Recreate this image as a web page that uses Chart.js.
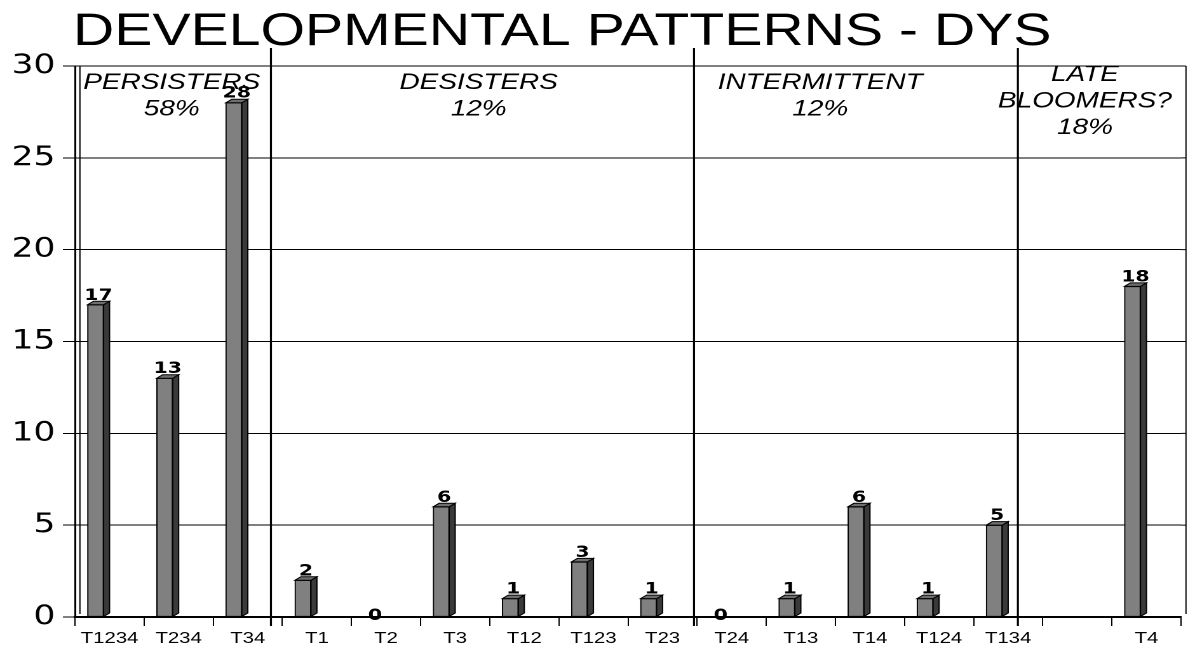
<!DOCTYPE html>
<html>
<head>
<meta charset="utf-8">
<title>Developmental patterns - DYS</title>
<script src="https://cdn.jsdelivr.net/npm/chart.js@4.4.1/dist/chart.umd.min.js"></script>
<style>
  html, body { margin: 0; padding: 0; background: #fff; overflow: hidden; }
  /* the chart is laid out narrow and widened horizontally, giving the wide lettering */
  #wrap { position: absolute; left: 0; top: 0; width: 935px; height: 646px;
          transform: scaleX(1.27059); transform-origin: 0 0; }
</style>
</head>
<body>
<div id="wrap"><canvas id="chart"></canvas></div>
<script>
// ---- data ----
const categories = ['T1234', 'T234', 'T34', 'T1', 'T2', 'T3', 'T12', 'T123', 'T23',
                    'T24', 'T13', 'T14', 'T124', 'T134', '', 'T4'];
const counts = [17, 13, 28, 2, 0, 6, 1, 3, 1, 0, 1, 6, 1, 5, null, 18];
const yTicks = [0, 5, 10, 15, 20, 25, 30];
const chartTitle = 'DEVELOPMENTAL PATTERNS - DYS';
const groupNames = [['PERSISTERS'], ['DESISTERS'], ['INTERMITTENT'], ['LATE', 'BLOOMERS?']];
const groupShares = ['58%', '12%', '12%', '18%'];

// ---- placement of the group captions and separators, in category units ----
const groupCenters = [0.9, 5.34, 10.28, 14.11];
const dividerAt = [2.335, 8.455, 13.14];

const DEPTH_X = 4.7, DEPTH_Y = 3.5, BAR_SHIFT = -11;
const SANS = '"Liberation Sans", Arial, sans-serif';

function xAt(chart, u) {
  const xs = chart.scales.x;
  const p0 = xs.getPixelForValue(0), p1 = xs.getPixelForValue(1);
  return p0 + u * (p1 - p0);
}

// bars drawn as blocks with a darker side and a top face
const depthPlugin = {
  id: 'depth',
  beforeDatasetsDraw(chart) {
    chart.ctx.save();
    chart.ctx.translate(BAR_SHIFT, 0);
  },
  afterDatasetsDraw(chart) {
    const ctx = chart.ctx;
    const meta = chart.getDatasetMeta(0);
    meta.data.forEach((bar, i) => {
      const v = counts[i];
      if (v === null || v === undefined) return;
      const { x, y, base, width } = bar.getProps(['x', 'y', 'base', 'width'], true);
      const l = x - width / 2, r = x + width / 2;
      ctx.lineWidth = 1;
      ctx.strokeStyle = '#000';
      if (v > 0) {
        ctx.beginPath();
        ctx.moveTo(r, y);
        ctx.lineTo(r + DEPTH_X, y - DEPTH_Y);
        ctx.lineTo(r + DEPTH_X, base - DEPTH_Y);
        ctx.lineTo(r, base);
        ctx.closePath();
        ctx.fillStyle = '#3a3a3a';
        ctx.fill();
        ctx.stroke();
        ctx.beginPath();
        ctx.moveTo(l, y);
        ctx.lineTo(l + DEPTH_X, y - DEPTH_Y);
        ctx.lineTo(r + DEPTH_X, y - DEPTH_Y);
        ctx.lineTo(r, y);
        ctx.closePath();
        ctx.fillStyle = '#6e6e6e';
        ctx.fill();
        ctx.stroke();
      }
      ctx.font = 'bold 16px "DejaVu Sans", sans-serif';
      ctx.textAlign = 'center';
      ctx.fillStyle = '#000';
      if (v > 0) {
        ctx.textBaseline = 'alphabetic';
        ctx.fillText(String(v), x + DEPTH_X / 2, y - DEPTH_Y - 1.5);
      } else {
        ctx.textBaseline = 'middle';
        ctx.fillText(String(v), x + DEPTH_X / 2, base - 1);
      }
    });
    ctx.restore();
  }
};

// back wall edges, group separators, captions and title
const framePlugin = {
  id: 'frame',
  afterDraw(chart) {
    const ctx = chart.ctx;
    const a = chart.chartArea;
    const ys = chart.scales.y;
    ctx.save();
    ctx.strokeStyle = '#000';
    ctx.lineWidth = 1;
    // left wall and right edge of the back wall
    ctx.beginPath();
    ctx.moveTo(a.left + 3.9, a.top);
    ctx.lineTo(a.left + 3.9, a.bottom - 3);
    ctx.moveTo(a.right + 3.9, a.top);
    ctx.lineTo(a.right + 3.9, a.bottom - 3);
    yTicks.forEach(t => {
      const py = ys.getPixelForValue(t);
      if (t > 0) { ctx.moveTo(a.right, py); ctx.lineTo(a.right + 3.9, py); }
    });
    ctx.stroke();

    // separators between groups
    ctx.lineWidth = 1.6;
    ctx.beginPath();
    dividerAt.forEach(u => {
      const px = xAt(chart, u);
      ctx.moveTo(px, 48);
      ctx.lineTo(px, a.bottom + 9);
    });
    ctx.stroke();

    // group captions
    ctx.fillStyle = '#000';
    ctx.textAlign = 'center';
    ctx.textBaseline = 'middle';
    ctx.font = 'italic 22px ' + SANS;
    groupNames.forEach((names, i) => {
      const lines = names.concat([groupShares[i]]);
      const px = xAt(chart, groupCenters[i]);
      let py = lines.length === 3 ? a.top + 9 : a.top + 17;
      lines.forEach(s => { ctx.fillText(s, px, py); py += 26.5; });
    });

    // title
    ctx.font = '45px ' + SANS;
    ctx.textBaseline = 'alphabetic';
    ctx.fillText(chartTitle, chart.width / 2 - 25, 45);
    ctx.restore();
  }
};

new Chart(document.getElementById('chart'), {
  type: 'bar',
  data: {
    labels: categories,
    datasets: [{
      data: counts,
      backgroundColor: '#808080',
      borderColor: '#000',
      borderWidth: 1,
      borderSkipped: false,
      barThickness: 12.6
    }]
  },
  options: {
    responsive: true,
    maintainAspectRatio: false,
    animation: false,
    devicePixelRatio: 2,
    layout: { padding: { top: 66, right: 5.5, left: 0, bottom: 0 } },
    plugins: {
      legend: { display: false },
      tooltip: { enabled: false },
      title: { display: false }
    },
    scales: {
      x: {
        offset: true,
        grid: { display: true, drawOnChartArea: false, drawTicks: true, tickLength: 9,
                color: '#000', lineWidth: 1, offset: true },
        border: { display: true, color: '#000', width: 2 },
        ticks: { font: { family: SANS, size: 16 }, color: '#000', padding: 3,
                 maxRotation: 0, autoSkip: false },
        afterFit(s) { s.height = 29; }
      },
      y: {
        min: 0,
        max: 30,
        afterBuildTicks(s) { s.ticks = yTicks.map(v => ({ value: v })); },
        ticks: { font: { family: '"DejaVu Sans", sans-serif', size: 27 }, color: '#000', padding: 6 },
        grid: { color: '#000', lineWidth: 1, tickLength: 9.5 },
        border: { display: true, color: '#000', width: 1.5 },
        afterFit(s) { s.width = 59; }
      }
    }
  },
  plugins: [depthPlugin, framePlugin]
});
</script>
</body>
</html>
